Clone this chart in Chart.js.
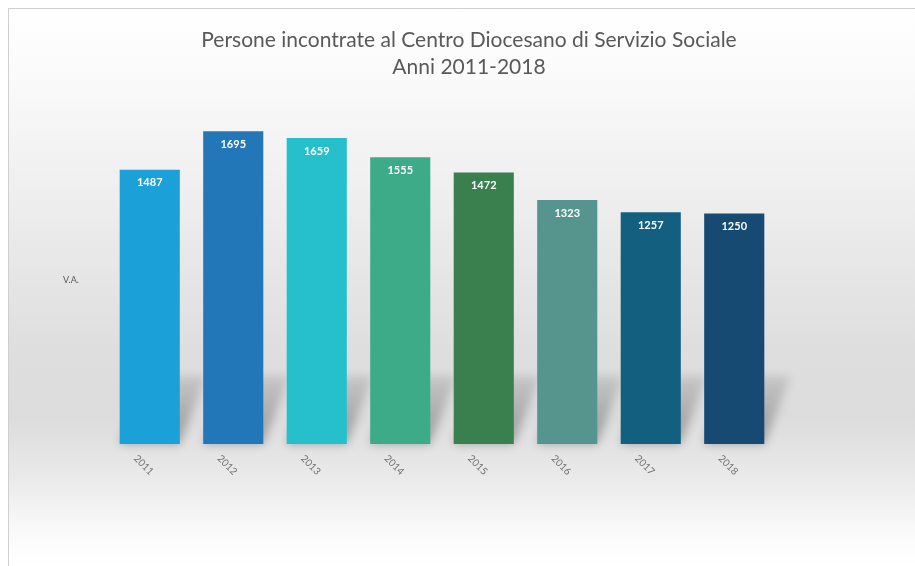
<!DOCTYPE html>
<html>
<head>
<meta charset="utf-8">
<script src="https://cdn.jsdelivr.net/npm/chart.js@4"></script>
<style>
  html, body { margin: 0; padding: 0; background: #ffffff; }
  #wrap { width: 915px; height: 566px; position: relative; }
  canvas { display: block; }
</style>
</head>
<body>
<div id="wrap"><canvas id="chart" width="915" height="566"></canvas></div>
<script>
// Anni e persone incontrate (valori assoluti)
const years = ['2011', '2012', '2013', '2014', '2015', '2016', '2017', '2018'];
const persons = [1487, 1695, 1659, 1555, 1472, 1323, 1257, 1250];
const barColors = ['#1ca0d8', '#2277b9', '#25c0cb', '#3daa88', '#3a7f4e', '#56948e', '#125f80', '#164a72'];
const titleLines = ['Persone incontrate al Centro Diocesano di Servizio Sociale', 'Anni 2011-2018'];
const axisTitle = 'V.A.';

const FONT = 'Lato, "Open Sans", sans-serif';

// Sfondo sfumato e cornice del riquadro
const backdrop = {
  id: 'backdrop',
  beforeDraw(chart) {
    const { ctx, width, height } = chart;
    ctx.save();
    const g = ctx.createLinearGradient(0, 0, 0, height);
    g.addColorStop(0.00, '#ffffff');
    g.addColorStop(0.12, '#fbfbfb');
    g.addColorStop(0.35, '#eeeeee');
    g.addColorStop(0.62, '#dedede');
    g.addColorStop(0.74, '#dcdcdc');
    g.addColorStop(0.86, '#ececec');
    g.addColorStop(0.94, '#fafafa');
    g.addColorStop(1.00, '#ffffff');
    ctx.fillStyle = g;
    ctx.fillRect(8, 8, width - 8, height - 8);
    ctx.strokeStyle = '#cfcfcf';
    ctx.lineWidth = 1;
    ctx.beginPath();
    ctx.moveTo(8.5, height);
    ctx.lineTo(8.5, 8.5);
    ctx.lineTo(width, 8.5);
    ctx.stroke();
    ctx.restore();
  }
};

// Ombre proiettate dietro le colonne
const barShadows = {
  id: 'barShadows',
  beforeDatasetsDraw(chart) {
    const { ctx } = chart;
    const meta = chart.getDatasetMeta(0);
    ctx.save();
    ctx.filter = 'blur(5px)';
    meta.data.forEach(bar => {
      const half = bar.width / 2;
      const base = bar.base;
      const dh = 68, dx = 26;
      const g = ctx.createLinearGradient(0, base, 0, base - dh);
      g.addColorStop(0, 'rgba(0,0,0,0.30)');
      g.addColorStop(1, 'rgba(0,0,0,0.10)');
      ctx.fillStyle = g;
      ctx.beginPath();
      ctx.moveTo(bar.x - half, base);
      ctx.lineTo(bar.x + half, base);
      ctx.lineTo(bar.x + half + dx, base - dh);
      ctx.lineTo(bar.x - half + dx, base - dh);
      ctx.closePath();
      ctx.fill();
    });
    ctx.restore();
  }
};

// Titolo, etichette dei valori, anni ruotati e titolo dell'asse
const texts = {
  id: 'texts',
  afterDatasetsDraw(chart) {
    const { ctx } = chart;
    const meta = chart.getDatasetMeta(0);
    const xs = chart.scales.x;
    const ys = chart.scales.y;
    ctx.save();

    ctx.fillStyle = '#595959';
    ctx.textAlign = 'center';
    ctx.textBaseline = 'middle';
    ctx.font = '21px ' + FONT;
    ctx.fillText(titleLines[0], 469, 40);
    ctx.fillText(titleLines[1], 469, 67);

    ctx.fillStyle = '#ffffff';
    ctx.font = 'bold 11px ' + FONT;
    meta.data.forEach((bar, i) => {
      ctx.fillText(String(persons[i]), bar.x, bar.y + 13);
    });

    ctx.fillStyle = '#707070';
    ctx.font = '10px ' + FONT;
    years.forEach((y, i) => {
      const x = xs.getPixelForValue(i);
      ctx.save();
      ctx.translate(x - 6, ys.bottom + 21);
      ctx.rotate(Math.PI / 4);
      ctx.fillText(y, 0, 0);
      ctx.restore();
    });

    ctx.fillStyle = '#595959';
    ctx.font = '9px ' + FONT;
    ctx.fillText(axisTitle, 71, 280);
    ctx.restore();
  }
};

new Chart(document.getElementById('chart'), {
  type: 'bar',
  data: {
    labels: years,
    datasets: [{
      data: persons,
      backgroundColor: barColors,
      borderWidth: 0,
      barPercentage: 0.72,
      categoryPercentage: 1.0
    }]
  },
  options: {
    responsive: false,
    animation: false,
    layout: { padding: { left: 108, right: 139, top: 112, bottom: 122 } },
    plugins: {
      legend: { display: false },
      title: { display: false },
      tooltip: { enabled: false }
    },
    scales: {
      x: { display: false },
      y: { display: false, min: 0, max: 1800 }
    }
  },
  plugins: [backdrop, barShadows, texts]
});
</script>
</body>
</html>
